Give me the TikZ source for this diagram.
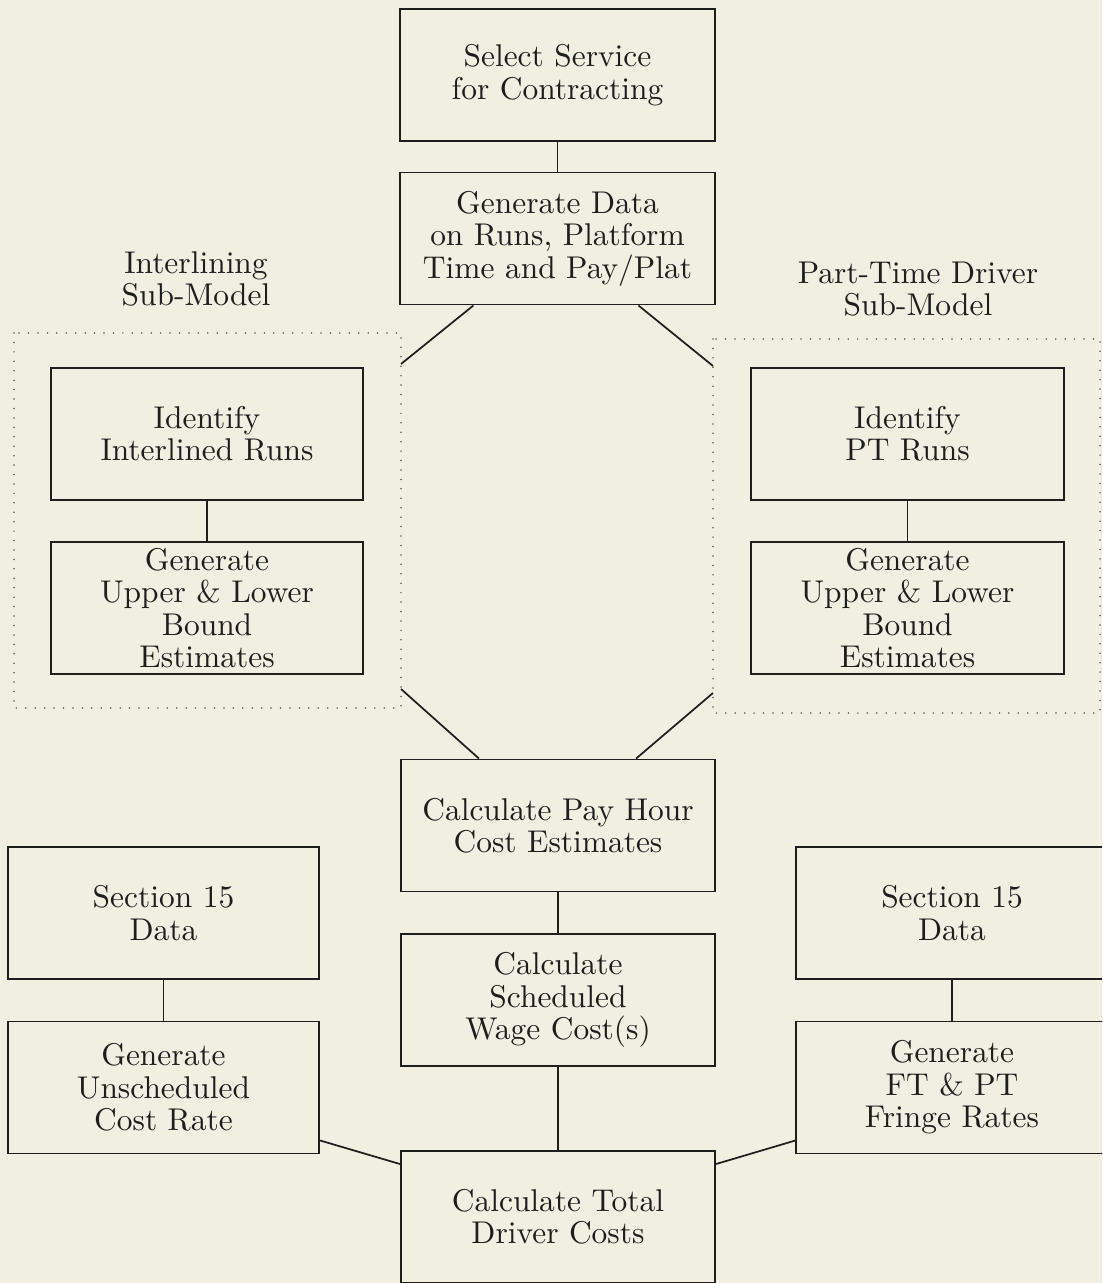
\documentclass[tikz,border=0pt]{standalone}
\definecolor{paper}{RGB}{241,238,226}
\definecolor{ink}{RGB}{30,30,28}
\definecolor{dotink}{RGB}{90,90,85}
\begin{document}
\begin{tikzpicture}[x=0.318pt,y=-0.318pt,
  every node/.style={text=ink},
  stepbox/.style={draw=ink, line width=0.6pt, rectangle, inner sep=0pt,
    align=center, font=\fontsize{10}{10.3}\selectfont, minimum height=42pt},
  midbox/.style={stepbox, minimum width=99.9pt},
  sidebox/.style={stepbox, minimum width=99pt},
  subbox/.style={stepbox, minimum width=99.3pt},
  caption/.style={inner sep=0pt, align=center, font=\fontsize{10}{10.3}\selectfont},
  link/.style={draw=ink, line width=0.55pt},
  region/.style={draw=dotink, line width=0.55pt, line cap=round, dash pattern=on 0pt off 3pt}]

\useasboundingbox (0,0) rectangle (1102,1283);
\clip (0,0) rectangle (1102,1283);
\fill[paper] (0,0) rectangle (1102,1283);

% dotted regions of the two sub-models
\draw[region] (14,333) rectangle (401,708);
\draw[region] (713,339) rectangle (1100,713);

% sub-model captions
\node[caption] (intl) at (196,279) {Interlining\\Sub-Model};
\node[caption] (ptd) at (918,289) {Part-Time Driver\\Sub-Model};

% main column
\node[midbox] (sel) at (557.5,75)   {Select Service\\for Contracting};
\node[midbox] (gen) at (557.5,238.5) {Generate Data\\on Runs, Platform\\Time and Pay/Plat};
\node[midbox] (pay) at (558,825.5)  {Calculate Pay Hour\\Cost Estimates};
\node[midbox] (sch) at (558,1000)   {Calculate\\Scheduled\\Wage Cost(s)};
\node[midbox] (tot) at (558,1217)   {Calculate Total\\Driver Costs};

% interlining sub-model
\node[subbox] (idL) at (207,434) {Identify\\Interlined Runs};
\node[subbox] (upL) at (207,608) {Generate\\Upper \& Lower\\Bound\\Estimates};

% part-time driver sub-model
\node[subbox] (idR) at (907.5,434) {Identify\\PT Runs};
\node[subbox] (upR) at (907.5,608) {Generate\\Upper \& Lower\\Bound\\Estimates};

% cost-rate inputs
\node[sidebox] (s15L) at (163.5,913)  {Section 15\\Data};
\node[sidebox] (uns)  at (163.5,1087.5) {Generate\\Unscheduled\\Cost Rate};
\node[sidebox] (s15R) at (952,913)    {Section 15\\Data};
\node[sidebox] (fri)  at (952,1087.5) {Generate\\FT \& PT\\Fringe Rates};

% corners where the branches meet the dotted regions
\coordinate (lt) at (401,364);
\coordinate (lb) at (401,689);
\coordinate (rt) at (713,366);
\coordinate (rb) at (713,693);

% connectors
\draw[link] (sel) -- (gen);
\draw[link] ([xshift=23.5pt]gen.south west) -- (lt);
\draw[link] ([xshift=-24.5pt]gen.south east) -- (rt);
\draw[link] (lb) -- ([xshift=25.1pt]pay.north west);
\draw[link] (rb) -- ([xshift=-25.4pt]pay.north east);
\draw[link] (pay) -- (sch);
\draw[link] (sch) -- (tot);
\draw[link] (idL) -- (upL);
\draw[link] (idR) -- (upR);
\draw[link] (s15L) -- (uns);
\draw[link] (s15R) -- (fri);
\draw[link] ([yshift=4.45pt]uns.south east) -- ([yshift=-4.45pt]tot.north west);
\draw[link] ([yshift=4.45pt]fri.south west) -- ([yshift=-4.45pt]tot.north east);

\end{tikzpicture}
\end{document}
